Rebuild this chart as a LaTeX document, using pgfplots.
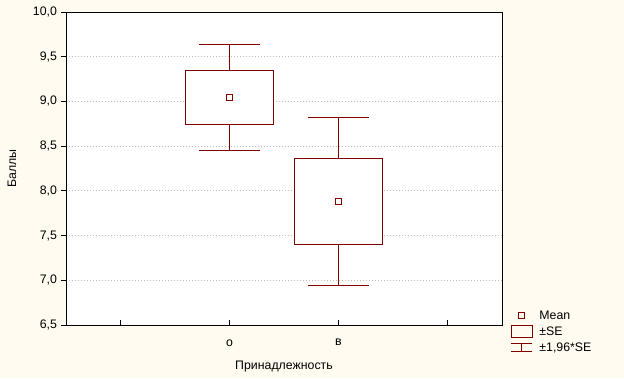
\documentclass[border=0pt]{standalone}
\usepackage{fontspec}
\setmainfont{Liberation Sans}
\usepackage{pgfplots}
\pgfplotsset{compat=1.18}
\definecolor{bg}{RGB}{255,251,240}
\definecolor{dred}{RGB}{128,0,0}
\definecolor{gridc}{RGB}{190,190,190}
\begin{document}
\fontsize{9.25pt}{11pt}\selectfont
\begin{tikzpicture}
\fill[bg] (0,0) rectangle (468pt,283.5pt);
\useasboundingbox (0,0) rectangle (468pt,283.5pt);
\begin{axis}[
  at={(49.5pt,39.75pt)}, anchor=south west,
  scale only axis, width=327pt, height=234.75pt,
  xmin=0.5, xmax=4.5, ymin=6.5, ymax=10,
  axis background/.style={fill=white},
  axis line style={black, line width=0.75pt},
  ymajorgrids,
  grid style={gridc, line width=0.75pt, dash pattern=on 0.75pt off 1.5pt},
  ytick={6.5,7,7.5,8,8.5,9,9.5,10},
  xtick={1,2,3,4},
  xticklabels={,о,в,},
  xtick pos=bottom, ytick pos=left,
  tick align=outside,
  major tick length=3.5pt,
  tick style={black, line width=0.75pt},
  x tick style={yshift=3.5pt},
  yticklabel style={/pgf/number format/.cd, fixed, fixed zerofill, precision=1, use comma, assume math mode=true},
  every tick label/.append style={font=\fontsize{9.25pt}{11pt}\selectfont},
  xticklabel style={yshift=-4pt},
  xlabel={Принадлежность},
  ylabel={Баллы},
  label style={font=\fontsize{9.25pt}{11pt}\selectfont},
  xlabel style={at={(axis description cs:0.5,-0.133)}, anchor=center},
  ylabel style={at={(axis description cs:-0.124,0.5)}, anchor=center},
  legend style={at={(axis description cs:1.020,0.056)}, anchor=north west, draw=none, fill=none,
    font=\fontsize{9.25pt}{11pt}\selectfont, row sep=0pt, inner sep=0pt,
    nodes={inner sep=1.5pt, text height=7pt, text depth=2pt}},
  legend cell align=left,
]
% ±1.96*SE whiskers (group "о": mean 9.046, group "в": mean 7.883)
\addplot[dred, line width=0.75pt, forget plot, unbounded coords=jump] coordinates {
  (2,9.348) (2,9.638) (nan,nan) (1.717,9.638) (2.283,9.638) (nan,nan)
  (2,8.744) (2,8.455) (nan,nan) (1.717,8.455) (2.283,8.455)
};
\addplot[dred, line width=0.75pt, forget plot, unbounded coords=jump] coordinates {
  (3,8.364) (3,8.825) (nan,nan) (2.717,8.825) (3.283,8.825) (nan,nan)
  (3,7.402) (3,6.938) (nan,nan) (2.717,6.938) (3.283,6.938)
};
% ±SE boxes
\addplot[dred, fill=white, line width=0.75pt, forget plot] coordinates {
  (1.596,8.744) (2.404,8.744) (2.404,9.348) (1.596,9.348) (1.596,8.744)
};
\addplot[dred, fill=white, line width=0.75pt, forget plot] coordinates {
  (2.596,7.402) (3.404,7.402) (3.404,8.364) (2.596,8.364) (2.596,7.402)
};
% means
\addplot[only marks, dred, mark=square, mark size=2.1pt, mark options={line width=0.75pt, fill=white}, forget plot]
  coordinates {(2,9.046) (3,7.883)};
\addlegendimage{legend image code/.code={\draw[dred, line width=0.75pt] (5.5pt,-2.25pt) rectangle (10pt,2.25pt); \path (0pt,0pt) (19.25pt,0pt);}}
\addlegendentry{Mean}
\addlegendimage{legend image code/.code={\draw[dred, line width=0.75pt] (0pt,-4.4pt) rectangle (15.5pt,4.4pt); \path (19.25pt,0pt);}}
\addlegendentry{±SE}
\addlegendimage{legend image code/.code={\draw[dred, line width=0.75pt] (0pt,3pt) -- (15.5pt,3pt) (7.75pt,3pt) -- (7.75pt,-3pt) (0pt,-3pt) -- (15.5pt,-3pt); \path (19.25pt,0pt);}}
\addlegendentry{±1,96*SE}
\end{axis}
\end{tikzpicture}
\end{document}
